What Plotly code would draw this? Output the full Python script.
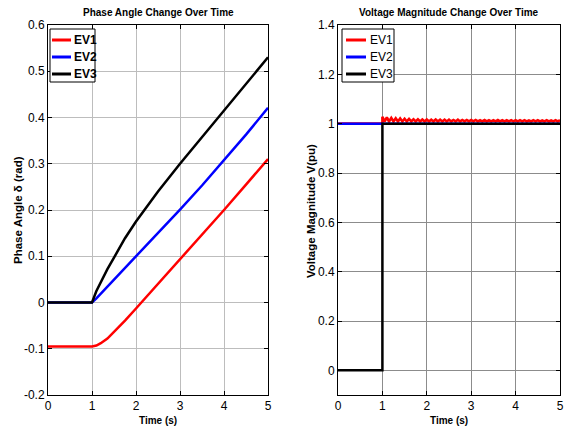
import plotly.graph_objects as go

# ---- Phase angle data (rad) ----
t_phase = [0, 1, 1.1, 1.2, 1.35, 1.5, 1.75, 2, 2.5, 3, 3.5, 4, 4.5, 5]
ev1_phase = [-0.095, -0.095, -0.093, -0.088, -0.078, -0.064, -0.039, -0.013, 0.040, 0.093, 0.147, 0.200, 0.255, 0.310]
ev2_phase = [0, 0, 0.009, 0.019, 0.034, 0.049, 0.075, 0.100, 0.150, 0.201, 0.253, 0.307, 0.363, 0.421]
ev3_phase = [0, 0, 0.025, 0.045, 0.072, 0.097, 0.139, 0.175, 0.240, 0.300, 0.358, 0.415, 0.473, 0.530]

# ---- Voltage magnitude data (pu) ----
# EV1 ripple: peak values every 0.1 s from t=1.0 to t=5.0, trough level in between
ev1_peak_times = [round(1 + 0.1 * i, 2) for i in range(41)]
ev1_peaks = [1.028, 1.025, 1.023, 1.022, 1.021, 1.020, 1.019, 1.018, 1.018, 1.017, 1.017,
             1.016, 1.017, 1.016, 1.016, 1.016, 1.015, 1.016, 1.015, 1.015, 1.015,
             1.015, 1.014, 1.015, 1.014, 1.014, 1.015, 1.014, 1.014, 1.014, 1.014,
             1.014, 1.014, 1.013, 1.014, 1.014, 1.013, 1.014, 1.013, 1.014, 1.014]
ev1_trough = 1.009
ev1_pre = 1.0
t_ev2_v = [0, 5]
ev2_v = [1.0, 1.0]
t_ev3_v = [0, 1, 1, 5]
ev3_v = [0.0, 0.0, 1.0, 1.0]

# EV1 zigzag (peak, trough, peak, ...)
t_ev1_v = [0, 1]
ev1_v = [ev1_pre, ev1_pre]
for i, (tp, vp) in enumerate(zip(ev1_peak_times, ev1_peaks)):
    t_ev1_v.append(tp)
    ev1_v.append(vp)
    if i < len(ev1_peaks) - 1:
        t_ev1_v.append(round(tp + 0.05, 3))
        ev1_v.append(ev1_trough)

names = ["EV1", "EV2", "EV3"]
RED, BLUE, BLACK = "#ff0000", "#0000ff", "#000000"
colors = [RED, BLUE, BLACK]
FONT = "Liberation Sans, Arial, sans-serif"

fig = go.Figure()
for name, ys, c in zip(names, [ev1_phase, ev2_phase, ev3_phase], colors):
    fig.add_trace(go.Scatter(x=t_phase, y=ys, name=name, mode="lines",
                             line=dict(color=c, width=2.5), xaxis="x", yaxis="y"))

fig.add_trace(go.Scatter(x=t_ev1_v, y=ev1_v, name="EV1", mode="lines",
                         line=dict(color=RED, width=2.6), xaxis="x2", yaxis="y2"))
fig.add_trace(go.Scatter(x=t_ev2_v, y=ev2_v, name="EV2", mode="lines",
                         line=dict(color=BLUE, width=2.5), xaxis="x2", yaxis="y2"))
fig.add_trace(go.Scatter(x=t_ev3_v, y=ev3_v, name="EV3", mode="lines",
                         line=dict(color=BLACK, width=2.5), xaxis="x2", yaxis="y2"))

W, H = 566, 427
def px(x):
    return x / W
def py(y):
    return 1 - y / H

x_ticks = [0, 1, 2, 3, 4, 5]
phase_ticks = [-0.2, -0.1, 0, 0.1, 0.2, 0.3, 0.4, 0.5, 0.6]
volt_ticks = [0, 0.2, 0.4, 0.6, 0.8, 1, 1.2, 1.4]

def fmt(v):
    return "%g" % v

axis_common = dict(showline=True, linecolor="black", linewidth=1, mirror="ticks",
                   ticks="inside", ticklen=4, tickcolor="black", showgrid=True,
                   zeroline=False, automargin=False,
                   tickfont=dict(family=FONT, size=12, color="black"))

fig.update_layout(
    width=W, height=H, margin=dict(l=0, r=0, t=0, b=0),
    paper_bgcolor="white", plot_bgcolor="white", showlegend=False,
    xaxis=dict(domain=[px(48), px(268)], range=[0, 5], tickvals=x_ticks,
               ticktext=[fmt(v) for v in x_ticks], gridcolor="#bdbdbd", anchor="y", **axis_common),
    yaxis=dict(domain=[py(395), py(25)], range=[-0.2, 0.6], tickvals=phase_ticks,
               ticktext=[fmt(v) for v in phase_ticks], gridcolor="#bdbdbd", anchor="x", **axis_common),
    xaxis2=dict(domain=[px(338), px(560)], range=[0, 5], tickvals=x_ticks,
                ticktext=[fmt(v) for v in x_ticks], gridcolor="#8c8c8c", anchor="y2", **axis_common),
    yaxis2=dict(domain=[py(395), py(25)], range=[-0.1, 1.4], tickvals=volt_ticks,
                ticktext=[fmt(v) for v in volt_ticks], gridcolor="#8c8c8c", anchor="x2", **axis_common),
)

# Boxed legends drawn in pixel positions of the page
def add_legend(box, line_x, text_x, rows, bold):
    x0, y0, x1, y1 = box
    fig.add_shape(type="rect", xref="paper", yref="paper",
                  x0=px(x0), x1=px(x1), y0=py(y1), y1=py(y0),
                  line=dict(color="black", width=1), fillcolor="white", layer="above")
    for name, c, ry in zip(names, colors, rows):
        fig.add_shape(type="line", xref="paper", yref="paper",
                      x0=px(line_x[0]), x1=px(line_x[1]), y0=py(ry), y1=py(ry),
                      line=dict(color=c, width=3), layer="above")
        fig.add_annotation(xref="paper", yref="paper", x=px(text_x), y=py(ry),
                           text=name, showarrow=False, xanchor="left", yanchor="middle",
                           font=dict(family=FONT, size=12, color="black",
                                     weight="bold" if bold else "normal"))

add_legend((50, 29, 95, 82), (52, 71), 72, [40, 57, 74], True)
add_legend((342, 29, 394, 82), (346, 366), 368, [40, 57, 74], False)

title_font = dict(family=FONT, size=10, color="black", weight="bold")
ytitle_font = dict(family=FONT, size=11.5, color="black", weight="bold")
annotations = [
    dict(text="Phase Angle Change Over Time", x=px(158), y=py(12), font=title_font),
    dict(text="Voltage Magnitude Change Over Time", x=px(449), y=py(12), font=title_font),
    dict(text="Time (s)", x=px(158), y=py(420), font=title_font),
    dict(text="Time (s)", x=px(449), y=py(420), font=title_font),
    dict(text="Phase Angle \u03b4 (rad)", x=px(18), y=py(210), textangle=-90, font=ytitle_font),
    dict(text="Voltage Magnitude V(pu)", x=px(311), y=py(211), textangle=-90, font=ytitle_font),
]
for a in annotations:
    fig.add_annotation(xref="paper", yref="paper", showarrow=False,
                       xanchor="center", yanchor="middle", **a)

fig.write_html("out.html")
